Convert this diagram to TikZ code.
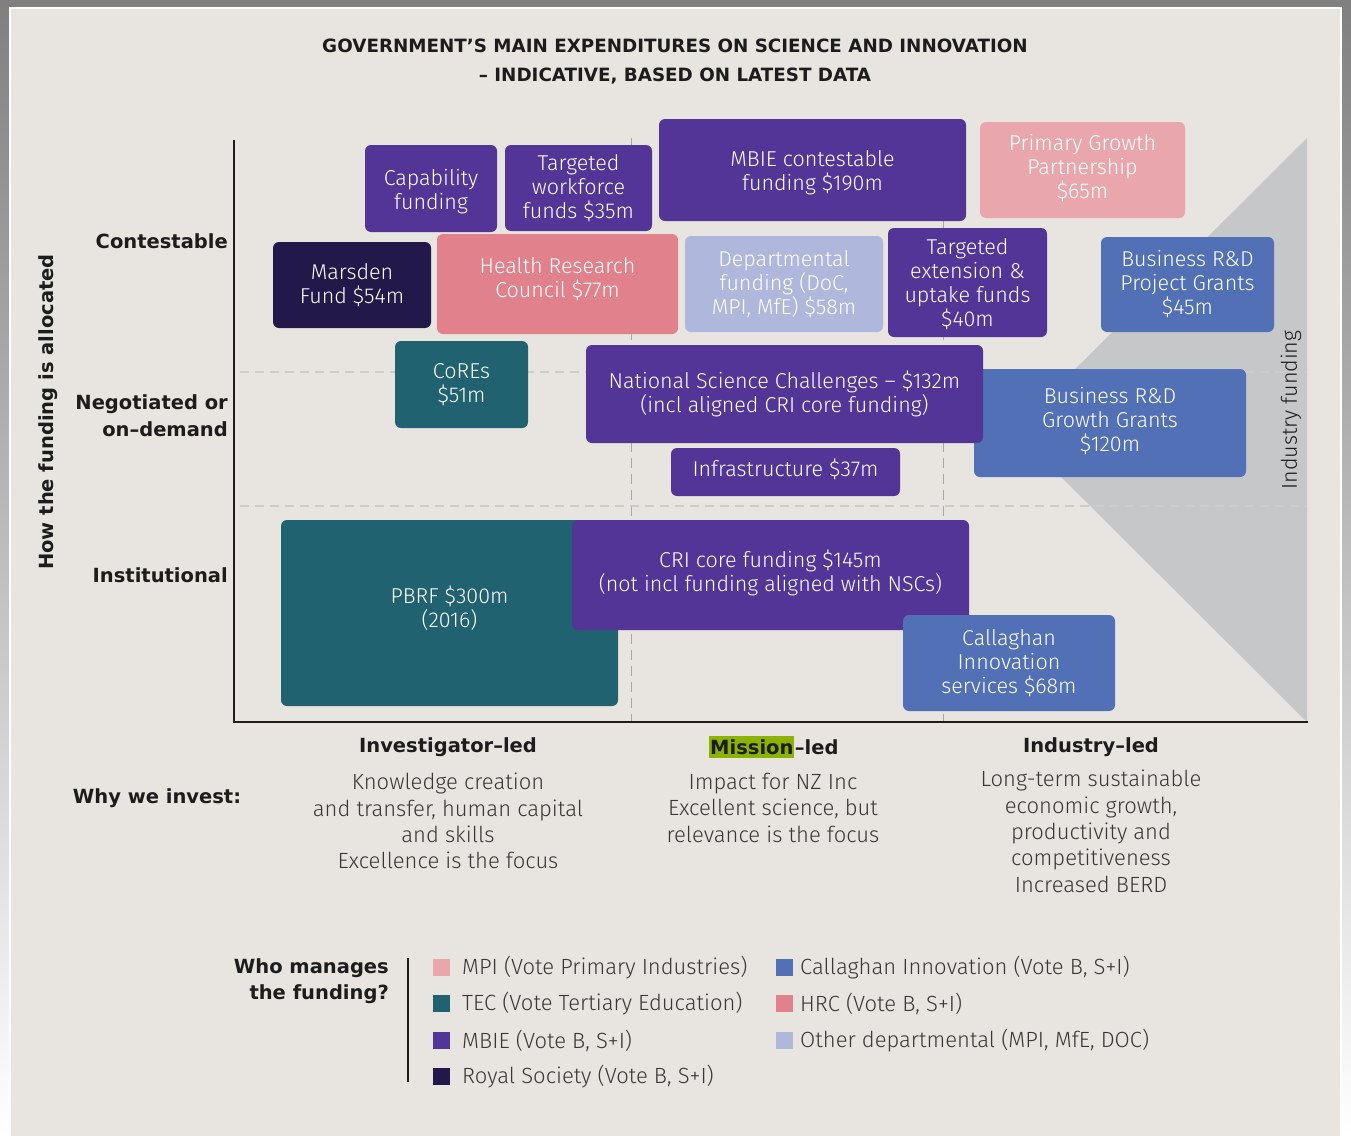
\documentclass[tikz,border=0pt]{standalone}
\usepackage{fontspec}
\setmainfont{Fira Sans}
\newfontfamily\thinfont{Fira Sans Light}
\newfontfamily\labelfont{DejaVu Sans}
\usepackage{xcolor}
\usetikzlibrary{positioning,fit}

\definecolor{paper}{HTML}{E8E4DF}
\definecolor{shade}{HTML}{C4C4C4}
\definecolor{mbie}{HTML}{523596}
\definecolor{royal}{HTML}{22194A}
\definecolor{tec}{HTML}{216271}
\definecolor{hrc}{HTML}{E0818B}
\definecolor{mpi}{HTML}{E9A7AD}
\definecolor{dept}{HTML}{AFB7DC}
\definecolor{calinn}{HTML}{5270B5}
\definecolor{wedge}{HTML}{C6C7C9}
\definecolor{mission}{HTML}{8CB300}
\definecolor{ink}{HTML}{1C1C1C}
\definecolor{soft}{HTML}{383838}

\tikzset{
  fund/.style={rounded corners=6pt, inner sep=0pt},
  fundtext/.style={align=center, text=white, inner sep=0pt,
    font=\thinfont\fontsize{21.5}{24}\selectfont},
  rowlabel/.style={font=\labelfont\bfseries\fontsize{19.5}{27}\selectfont, text=ink, align=right, anchor=east, inner sep=0pt},
  colhead/.style={font=\labelfont\bfseries\fontsize{19.5}{24}\selectfont, text=ink, inner sep=0pt},
  reason/.style={font=\thinfont\fontsize{22}{26.4}\selectfont, text=soft, align=center, anchor=north, inner sep=0pt},
  swatch/.style={minimum size=17pt, inner sep=0pt},
  legtext/.style={font=\thinfont\fontsize{22}{24}\selectfont, text=soft, anchor=west, inner sep=0pt},
  guide/.style={dashed, dash pattern=on 9pt off 6pt, line width=1.5pt, color=black!20},
  colguide/.style={dashed, dash pattern=on 10pt off 6pt, line width=1pt, color=black!35}
}

\begin{document}
\begin{tikzpicture}[x=1pt, y=-1pt]
    \useasboundingbox (0,0) rectangle (1351,1135);

    % Frame and panel
    \fill[shade] (0,0) rectangle (1351,1135);
    \draw[white, line width=2pt, fill=paper] (10,8) rectangle (1341,1140);

    % Title
    \node[font=\labelfont\bfseries\fontsize{18.3}{24}\selectfont, text=ink] (title1) at (675,46) {GOVERNMENT’S MAIN EXPENDITURES ON SCIENCE AND INNOVATION};
    \node[font=\labelfont\bfseries\fontsize{18.3}{24}\selectfont, text=ink] (title2) at (675,76) {– INDICATIVE, BASED ON LATEST DATA};

    % Industry funding wedge
    \fill[wedge] (1307,138) -- (1307,722) -- (1014,430) -- cycle;
    \node[rotate=90, font=\thinfont\fontsize{21.5}{24}\selectfont, text=ink] (indfund) at (1291,410) {Industry funding};

    % Guides
    \draw[colguide] (631,138) -- (631,722);
    \draw[colguide] (943,138) -- (943,722);
    \draw[guide] (240,372) -- (1307,372);
    \draw[guide] (240,506) -- (1307,506);

    % Axes
    \draw[ink, line width=2pt] (234,140) -- (234,722) -- (1308,722);

    % Contestable row
    \node[fund, fill=mbie, fit={(365,145) (497,232)}] (cap) {};
    \node[fundtext, yshift=-3pt] (captxt) at (cap.center) {Capability\\funding};
    \node[fund, fill=mbie, fit={(505,145) (652,231)}] (twf) {};
    \node[fundtext] (twftxt) at (twf.center) {Targeted\\workforce\\funds \$35m};
    \node[fund, fill=mbie, fit={(659,119) (966,221)}] (mbiec) {};
    \node[fundtext, yshift=-3pt] (mbiectxt) at (mbiec.center) {MBIE contestable\\funding \$190m};
    \node[fund, fill=mpi, fit={(980,122) (1185,218)}] (pgp) {};
    \node[fundtext, yshift=2pt] (pgptxt) at (pgp.center) {Primary Growth\\Partnership\\\$65m};
    \node[fund, fill=royal, fit={(273,242) (431,328)}] (marsden) {};
    \node[fundtext] (marsdentxt) at (marsden.center) {Marsden\\Fund \$54m};
    \node[fund, fill=hrc, fit={(437,234) (678,334)}] (hrc) {};
    \node[fundtext, yshift=5pt] (hrctxt) at (hrc.center) {Health Research\\Council \$77m};
    \node[fund, fill=dept, fit={(685,236) (883,332)}] (dept) {};
    \node[fundtext] (depttxt) at (dept.center) {Departmental\\funding (DoC,\\MPI, MfE) \$58m};
    \node[fund, fill=mbie, fit={(888,228) (1047,337)}] (tef) {};
    \node[fundtext, yshift=-2pt] (teftxt) at (tef.center) {Targeted\\extension \&\\uptake funds\\\$40m};
    \node[fund, fill=calinn, fit={(1101,237) (1274,332)}] (prj) {};
    \node[fundtext] (prjtxt) at (prj.center) {Business R\&D\\Project Grants\\\$45m};

    % Negotiated row
    \node[fund, fill=tec, fit={(395,341) (528,428)}] (cores) {};
    \node[fundtext] (corestxt) at (cores.center) {CoREs\\\$51m};
    \node[fund, fill=calinn, fit={(974,369) (1246,477)}] (grw) {};
    \node[fundtext, yshift=2pt] (grwtxt) at (grw.center) {Business R\&D\\Growth Grants\\\$120m};
    \node[fund, fill=mbie, fit={(586,345) (983,443)}] (nsc) {};
    \node[fundtext] (nsctxt) at (nsc.center) {National Science Challenges – \$132m\\(incl aligned CRI core funding)};
    \node[fund, fill=mbie, fit={(671,448) (900,496)}] (infra) {};
    \node[fundtext, yshift=3pt] (infratxt) at (infra.center) {Infrastructure \$37m};

    % Institutional row
    \node[fund, fill=tec, fit={(281,520) (618,706)}] (pbrf) {};
    \node[fundtext, yshift=5pt] (pbrftxt) at (pbrf.center) {PBRF \$300m\\(2016)};
    \node[fund, fill=mbie, fit={(572,520) (969,630)}] (cri) {};
    \node[fundtext, yshift=2pt] (critxt) at (cri.center) {CRI core funding \$145m\\(not incl funding aligned with NSCs)};
    \node[fund, fill=calinn, fit={(903,615) (1115,711)}] (cis) {};
    \node[fundtext] (cistxt) at (cis.center) {Callaghan\\Innovation\\services \$68m};

    % Row labels
    \node[rotate=90, font=\labelfont\bfseries\fontsize{19.5}{24}\selectfont, text=ink] (howlab) at (48,412) {How the funding is allocated};
    \node[rowlabel] (contest) at (228,241) {Contestable};
    \node[rowlabel] (negot) at (228,416) {Negotiated or\\on–demand};
    \node[rowlabel] (instit) at (228,575) {Institutional};

    % Column heads
    \node[colhead] (invled) at (448,747) {Investigator–led};
    \node[colhead, fill=mission, inner xsep=1pt, inner ysep=3pt, anchor=west] (mis) at (709,747) {Mission};
    \node[colhead, anchor=base west] (misled) at (mis.base east) {–led};
    \node[colhead] (indled) at (1091,747) {Industry–led};

    % Why we invest
    \node[colhead] (why) at (157,798) {Why we invest:};
    \node[reason] (invwhy) at (448,773) {Knowledge creation\\and transfer, human capital\\and skills\\Excellence is the focus};
    \node[reason] (miswhy) at (773,773) {Impact for NZ Inc\\Excellent science, but\\relevance is the focus};
    \node[reason] (indwhy) at (1091,770) {Long-term sustainable\\economic growth,\\productivity and\\competitiveness\\Increased BERD};

    % Legend
    \node[colhead, align=right, anchor=east, font=\labelfont\bfseries\fontsize{19.5}{26}\selectfont] (who) at (389,981) {Who manages\\the funding?};
    \draw[ink, line width=1.5pt] (408,958) -- (408,1082);

    \node[swatch, fill=mpi] (sw1) at (441.5,967) {};
    \node[legtext] (lg1) at (462,968) {MPI (Vote Primary Industries)};
    \node[swatch, fill=tec] (sw2) at (441.5,1003) {};
    \node[legtext] (lg2) at (462,1004) {TEC (Vote Tertiary Education)};
    \node[swatch, fill=mbie] (sw3) at (441.5,1040) {};
    \node[legtext] (lg3) at (462,1041) {MBIE (Vote B, S+I)};
    \node[swatch, fill=royal] (sw4) at (441.5,1076) {};
    \node[legtext] (lg4) at (462,1077) {Royal Society (Vote B, S+I)};

    \node[swatch, fill=calinn] (sw5) at (784,967) {};
    \node[legtext] (lg5) at (800,968) {Callaghan Innovation (Vote B, S+I)};
    \node[swatch, fill=hrc] (sw6) at (784,1003) {};
    \node[legtext] (lg6) at (800,1004) {HRC (Vote B, S+I)};
    \node[swatch, fill=dept] (sw7) at (784,1040) {};
    \node[legtext] (lg7) at (800,1041) {Other departmental (MPI, MfE, DOC)};
\end{tikzpicture}
\end{document}
